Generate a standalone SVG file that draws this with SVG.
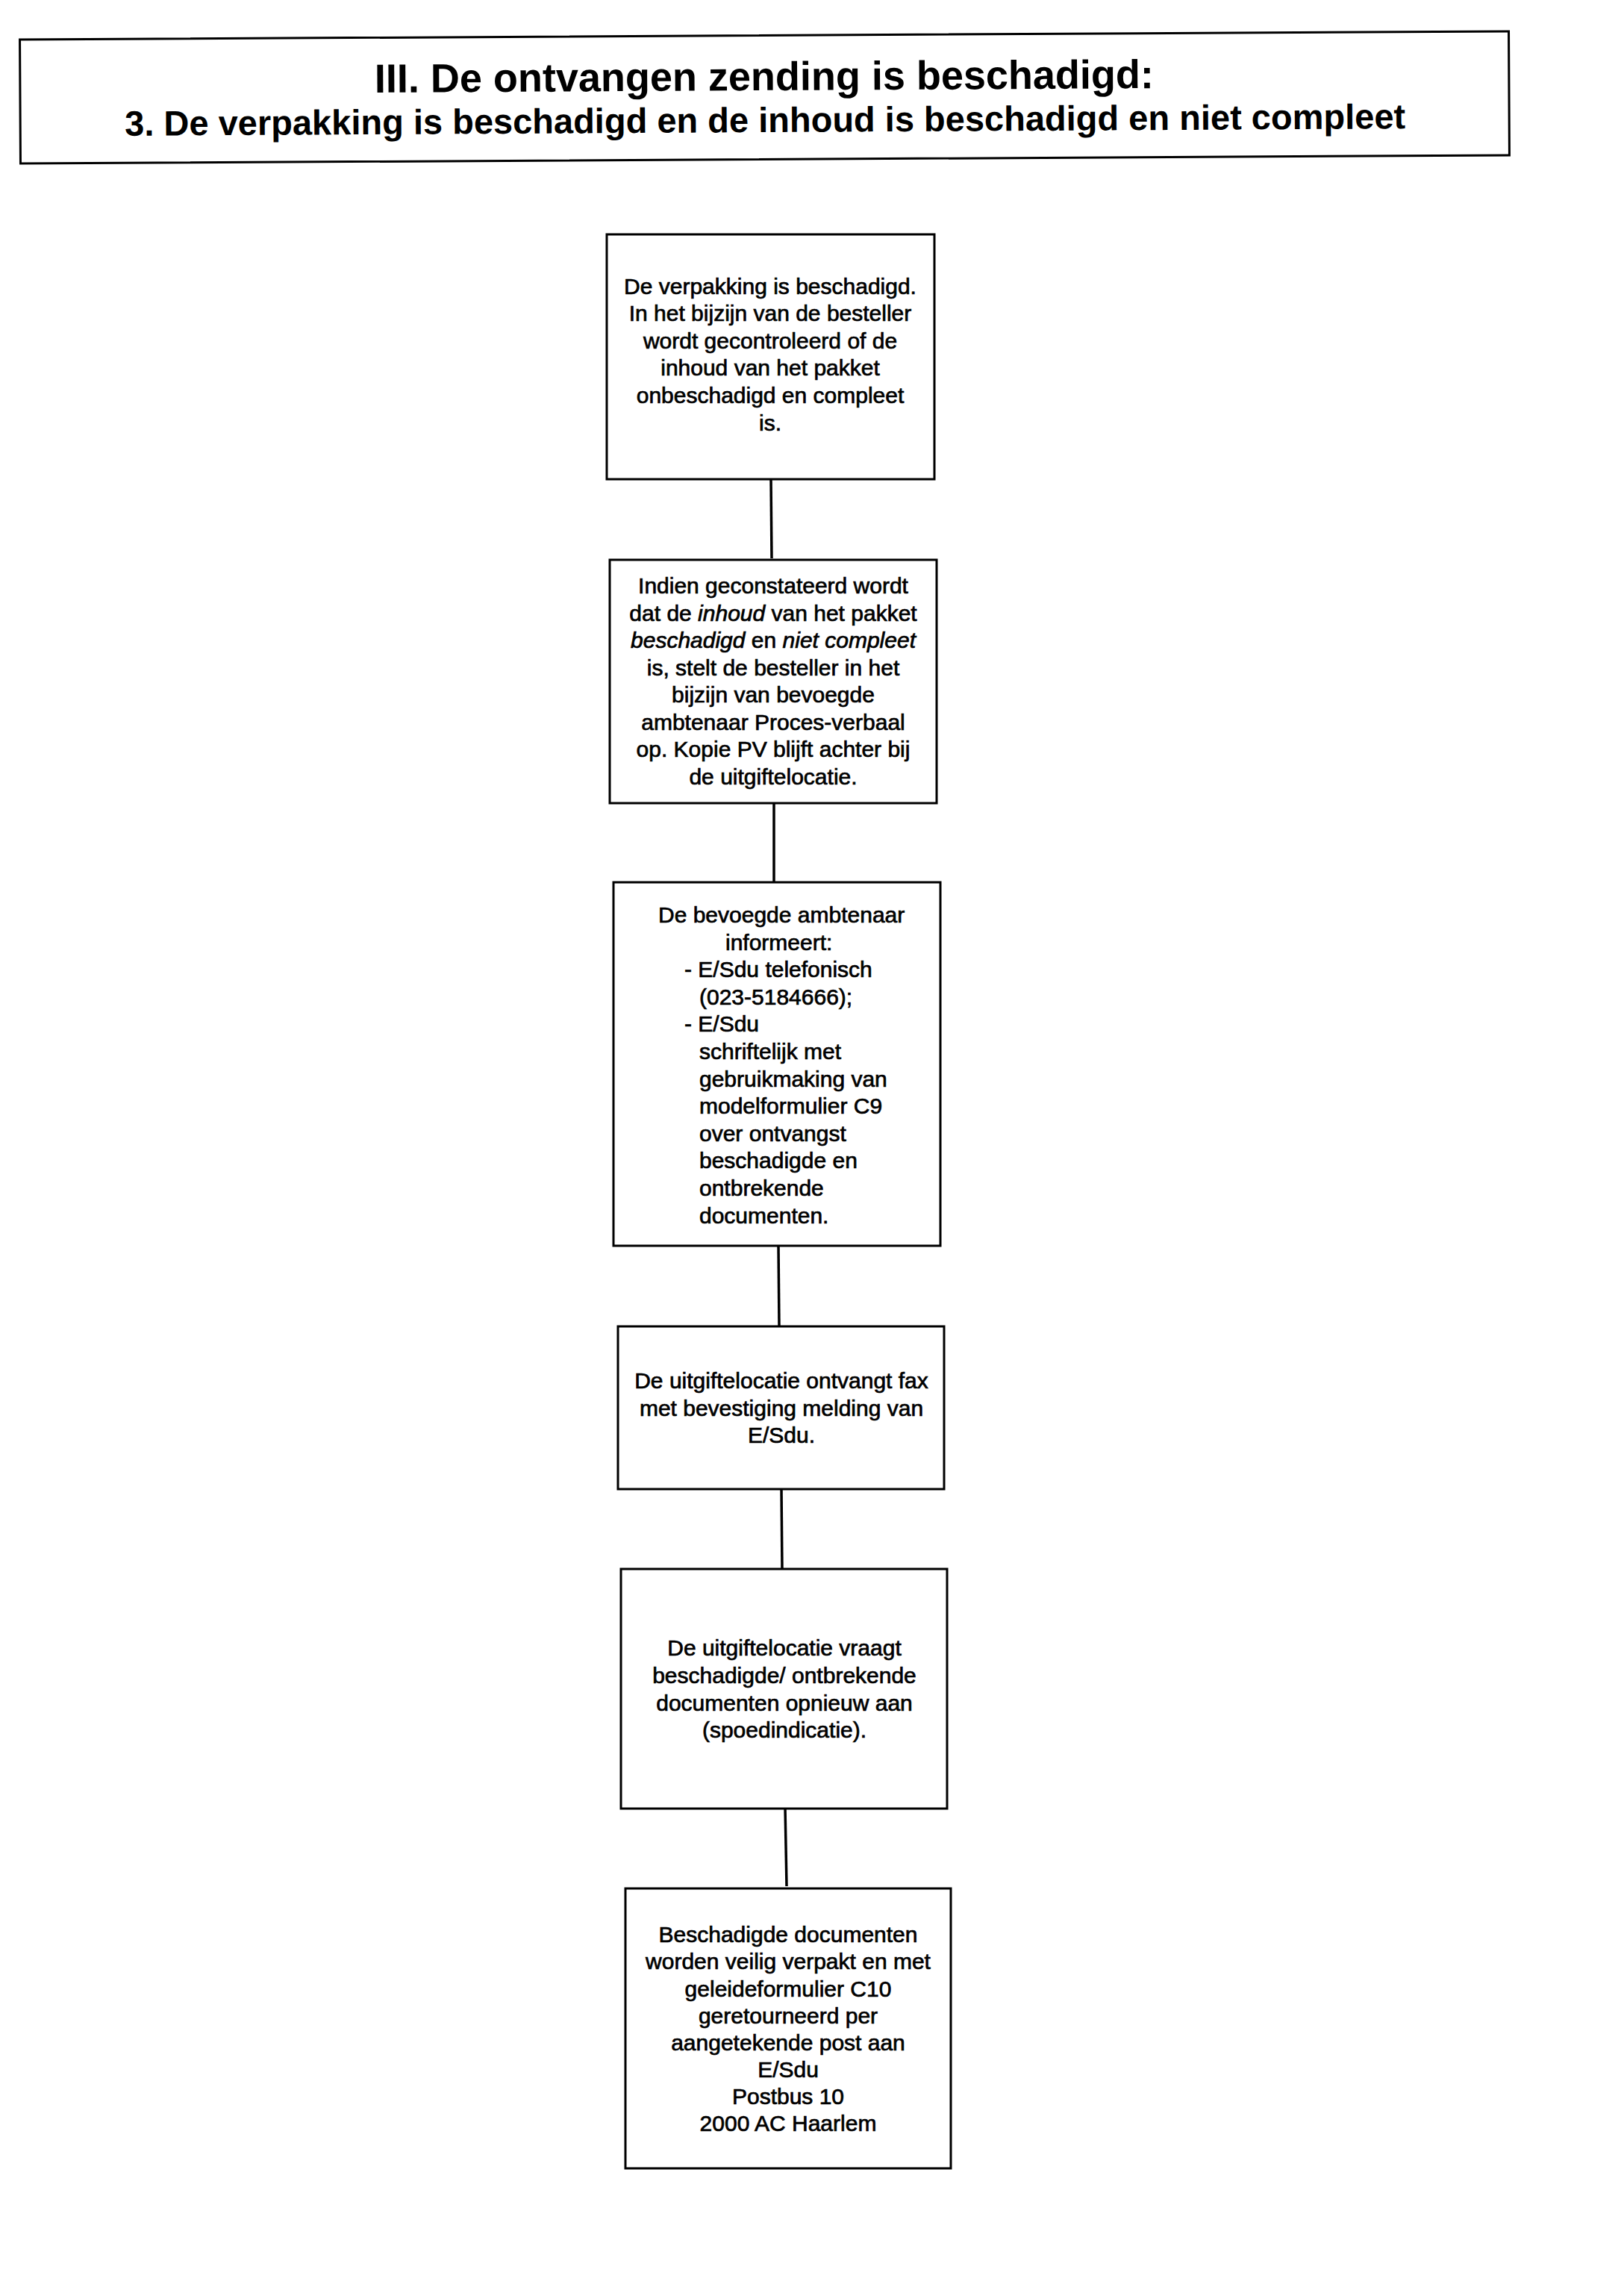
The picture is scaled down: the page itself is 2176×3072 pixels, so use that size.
<svg xmlns="http://www.w3.org/2000/svg" width="2176" height="3072" viewBox="0 0 2176 3072">
<style>
.bg{fill:#ffffff}
.box{fill:#ffffff;stroke:#000000;stroke-width:3}
.conn{stroke:#000000;stroke-width:3.5;fill:none}
.t{font-family:"Liberation Sans",Arial,sans-serif;font-size:30px;fill:#000000;stroke:#000000;stroke-width:0.7}
.c{text-anchor:middle}
.i{font-style:italic}
.h1{font-family:"Liberation Sans",Arial,sans-serif;font-weight:bold;font-size:54px;fill:#000000;text-anchor:middle}
.h2{font-family:"Liberation Sans",Arial,sans-serif;font-weight:bold;font-size:47px;fill:#000000;text-anchor:middle}
</style>
<rect class="bg" x="0" y="0" width="2176" height="3072"/>
<g id="title" transform="rotate(-0.32 1024 130)">
  <rect class="box" x="27" y="47.5" width="1995" height="166"/>
  <text class="h1" x="1024" y="121">III. De ontvangen zending is beschadigd:</text>
  <text class="h2" x="1025" y="177">3. De verpakking is beschadigd en de inhoud is beschadigd en niet compleet</text>
</g>
<g id="connectors">
  <line class="conn" x1="1033" y1="642" x2="1034" y2="748"/>
  <line class="conn" x1="1037" y1="1075" x2="1037" y2="1181"/>
  <line class="conn" x1="1043" y1="1669" x2="1044" y2="1776"/>
  <line class="conn" x1="1047" y1="1994" x2="1048" y2="2102"/>
  <line class="conn" x1="1052" y1="2421" x2="1054" y2="2527"/>
</g>
<g id="node1">
  <rect class="box" x="813" y="314" width="439" height="328"/>
  <text class="t c" x="1032" y="394">De verpakking is beschadigd.</text>
  <text class="t c" x="1032" y="430">In het bijzijn van de besteller</text>
  <text class="t c" x="1032" y="467">wordt gecontroleerd of de</text>
  <text class="t c" x="1032" y="503">inhoud van het pakket</text>
  <text class="t c" x="1032" y="540">onbeschadigd en compleet</text>
  <text class="t c" x="1032" y="577">is.</text>
</g>
<g id="node2">
  <rect class="box" x="817" y="750" width="438" height="326"/>
  <text class="t c" x="1036" y="795">Indien geconstateerd wordt</text>
  <text class="t c" x="1036" y="832">dat de <tspan class="i">inhoud</tspan> van het pakket</text>
  <text class="t c" x="1036" y="868"><tspan class="i">beschadigd</tspan> en <tspan class="i">niet compleet</tspan></text>
  <text class="t c" x="1036" y="905">is, stelt de besteller in het</text>
  <text class="t c" x="1036" y="941">bijzijn van bevoegde</text>
  <text class="t c" x="1036" y="978">ambtenaar Proces-verbaal</text>
  <text class="t c" x="1036" y="1014">op. Kopie PV blijft achter bij</text>
  <text class="t c" x="1036" y="1051">de uitgiftelocatie.</text>
</g>
<g id="node3">
  <rect class="box" x="822" y="1182" width="438" height="487"/>
  <text class="t" x="882" y="1236">De bevoegde ambtenaar</text>
  <text class="t" x="972" y="1273">informeert:</text>
  <text class="t" x="917" y="1309">- E/Sdu telefonisch</text>
  <text class="t" x="937" y="1346">(023-5184666);</text>
  <text class="t" x="917" y="1382">- E/Sdu</text>
  <text class="t" x="937" y="1419">schriftelijk met</text>
  <text class="t" x="937" y="1456">gebruikmaking van</text>
  <text class="t" x="937" y="1492">modelformulier C9</text>
  <text class="t" x="937" y="1529">over ontvangst</text>
  <text class="t" x="937" y="1565">beschadigde en</text>
  <text class="t" x="937" y="1602">ontbrekende</text>
  <text class="t" x="937" y="1639">documenten.</text>
</g>
<g id="node4">
  <rect class="box" x="828" y="1777" width="437" height="218"/>
  <text class="t c" x="1047" y="1860">De uitgiftelocatie ontvangt fax</text>
  <text class="t c" x="1047" y="1897">met bevestiging melding van</text>
  <text class="t c" x="1047" y="1933">E/Sdu.</text>
</g>
<g id="node5">
  <rect class="box" x="832" y="2102" width="437" height="321"/>
  <text class="t c" x="1051" y="2218">De uitgiftelocatie vraagt</text>
  <text class="t c" x="1051" y="2255">beschadigde/ ontbrekende</text>
  <text class="t c" x="1051" y="2292">documenten opnieuw aan</text>
  <text class="t c" x="1051" y="2328">(spoedindicatie).</text>
</g>
<g id="node6">
  <rect class="box" x="838" y="2530" width="436" height="375"/>
  <text class="t c" x="1056" y="2602">Beschadigde documenten</text>
  <text class="t c" x="1056" y="2638">worden veilig verpakt en met</text>
  <text class="t c" x="1056" y="2675">geleideformulier C10</text>
  <text class="t c" x="1056" y="2711">geretourneerd per</text>
  <text class="t c" x="1056" y="2747">aangetekende post aan</text>
  <text class="t c" x="1056" y="2783">E/Sdu</text>
  <text class="t c" x="1056" y="2819">Postbus 10</text>
  <text class="t c" x="1056" y="2855">2000 AC Haarlem</text>
</g>
</svg>
